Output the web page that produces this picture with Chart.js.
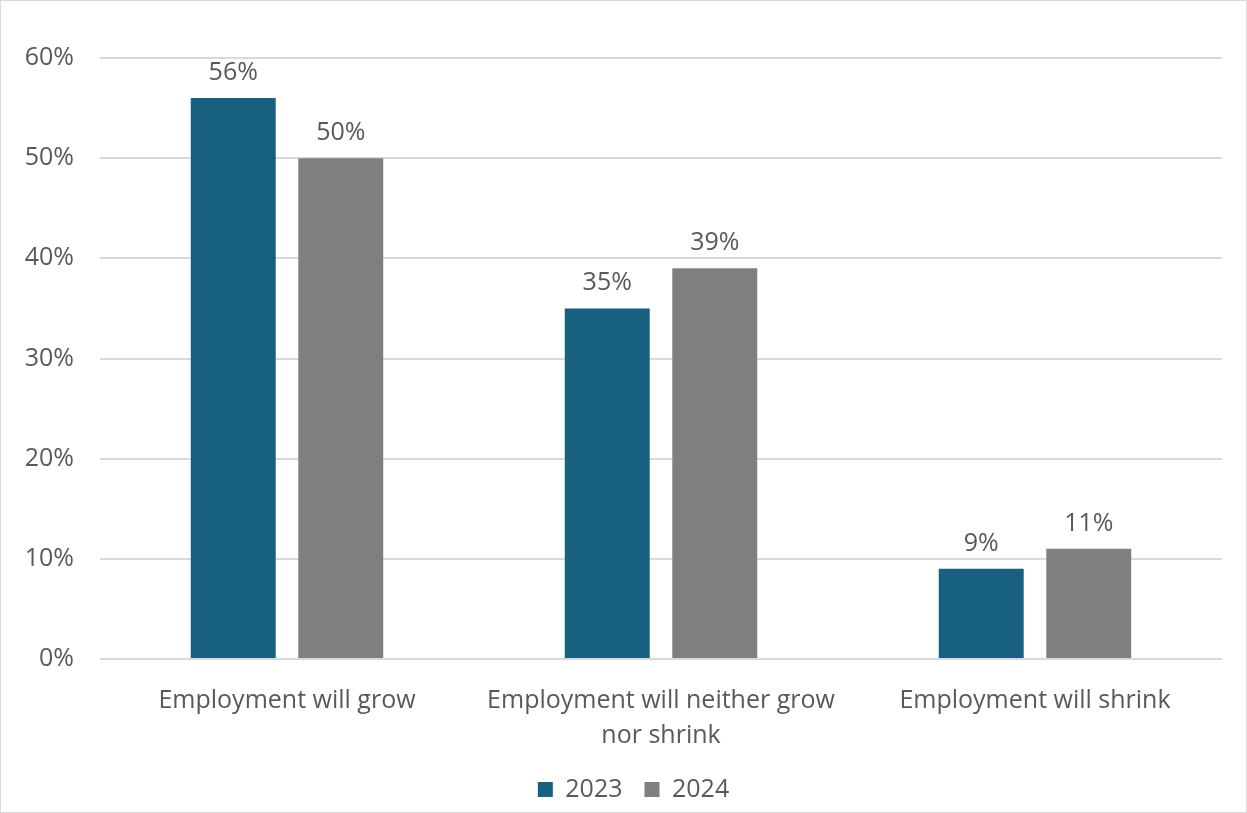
<!DOCTYPE html>
<html>
<head>
<meta charset="utf-8">
<script src="https://cdn.jsdelivr.net/npm/chart.js@4"></script>
<style>
  html, body { margin: 0; padding: 0; background: #fff; }
  .frame { width: 1247px; height: 813px; box-sizing: border-box; border: 1px solid #d9d9d9; }
  canvas { display: block; }
</style>
</head>
<body>
<div class="frame"><canvas id="outlookChart" width="1245" height="811"></canvas></div>
<script>
// categories and series (% of respondents)
const categories = [
    'Employment will grow',
    ['Employment will neither grow', 'nor shrink'],
    'Employment will shrink'
];
const values2023 = [56, 35, 9];
const values2024 = [50, 39, 11];
const yTicks = [0, 10, 20, 30, 40, 50, 60];

const textColor = '#595959';
const fontFamily = '"Segoe UI", "Open Sans", "Noto Sans", sans-serif';
const fontSize = 25;

// value labels above each bar
const barLabels = {
    id: 'barLabels',
    afterDatasetsDraw(chart) {
        const c = chart.ctx;
        c.save();
        c.font = fontSize + 'px ' + fontFamily;
        c.fillStyle = textColor;
        c.textAlign = 'center';
        c.textBaseline = 'alphabetic';
        chart.data.datasets.forEach((ds, i) => {
            chart.getDatasetMeta(i).data.forEach((bar, j) => {
                c.fillText(ds.data[j] + '%', bar.x, bar.y - 18);
            });
        });
        c.restore();
    }
};

// push the legend a little to the right of the canvas centre
const legendNudge = {
    id: 'legendNudge',
    afterLayout(chart) {
        if (chart.legend) {
            chart.legend.left += 22;
            chart.legend.right += 22;
        }
    }
};

document.addEventListener('DOMContentLoaded', function() {
    const ctx = document.getElementById('outlookChart').getContext('2d');
    new Chart(ctx, {
        type: 'bar',
        data: {
            labels: categories,
            datasets: [
                { label: '2023', data: values2023, backgroundColor: '#17607f' },
                { label: '2024', data: values2024, backgroundColor: '#7f7f7f' }
            ]
        },
        options: {
            responsive: false,
            animation: false,
            categoryPercentage: 0.575,
            barPercentage: 0.79,
            layout: { padding: { top: 57, right: 24, left: 0, bottom: 0 } },
            plugins: {
                legend: {
                    position: 'bottom',
                    labels: {
                        color: textColor,
                        font: { family: fontFamily, size: fontSize },
                        boxWidth: 15,
                        boxHeight: 15,
                        padding: 22
                    }
                },
                tooltip: { enabled: false }
            },
            scales: {
                x: {
                    grid: { display: false },
                    border: { display: false },
                    ticks: {
                        color: textColor,
                        font: { family: fontFamily, size: fontSize, lineHeight: 1.4 },
                        padding: 16,
                        maxRotation: 0
                    },
                    afterFit(scale) { scale.height = 96; }
                },
                y: {
                    min: 0,
                    max: 60,
                    afterBuildTicks(scale) { scale.ticks = yTicks.map(v => ({ value: v })); },
                    grid: { color: '#d9d9d9', lineWidth: 2, drawTicks: false },
                    border: { display: false },
                    ticks: {
                        color: textColor,
                        font: { family: fontFamily, size: fontSize },
                        padding: 26,
                        callback: v => v + '%'
                    },
                    afterFit(scale) { scale.width = 99; }
                }
            }
        },
        plugins: [barLabels, legendNudge]
    });
});
</script>
</body>
</html>
